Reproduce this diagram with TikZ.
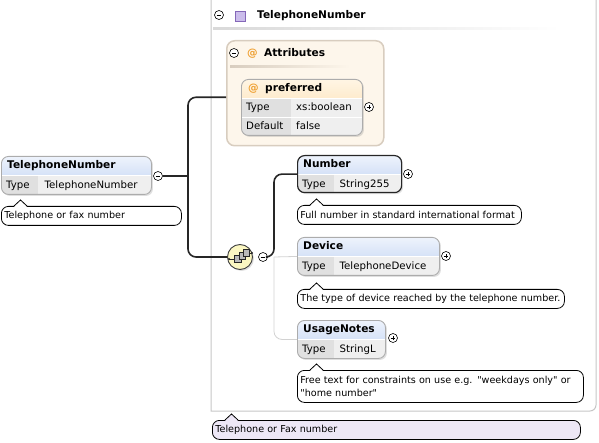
\documentclass[tikz,border=0pt]{standalone}
\usepackage{fontspec}
\setmainfont{DejaVu Sans}[Ligatures=TeXOff]
\usetikzlibrary{positioning, calc, shadows}

\definecolor{hdrtop}{HTML}{EEF3FC}
\definecolor{hdrbot}{HTML}{BCD0F2}
\definecolor{attop}{HTML}{FFF5E4}
\definecolor{atbot}{HTML}{FBD8A0}
\definecolor{cellkey}{HTML}{E0E0E0}
\definecolor{cellval}{HTML}{EFEFEF}
\definecolor{cream}{HTML}{FDF6EB}
\definecolor{creamline}{HTML}{D8CDBF}
\definecolor{seqfill}{HTML}{FBF7C2}
\definecolor{lavender}{HTML}{EDE7F6}
\definecolor{atorange}{HTML}{EFA031}
\definecolor{sqfill}{HTML}{CBBDEB}
\definecolor{sqline}{HTML}{8467B8}

\begin{document}
\begin{tikzpicture}[x=1pt, y=-1pt, font=\fontsize{10.2}{12.5}\selectfont,
        elem/.style={draw=gray!65, line width=0.9pt, rounded corners=7pt, fill=cellval, inner sep=0pt, anchor=north west,
            drop shadow={shadow xshift=1.5pt, shadow yshift=-1.5pt, opacity=0.25},
            path picture={
                \shade[sharp corners, top color=hdrtop, bottom color=hdrbot] (path picture bounding box.north west) rectangle ([yshift=-19pt]path picture bounding box.north east);
                \fill[sharp corners, cellkey] ([yshift=-19pt]path picture bounding box.north west) rectangle ([xshift=#1]path picture bounding box.south west);
                \draw[sharp corners, white, line width=0.8pt] ([yshift=-19pt]path picture bounding box.north west) -- ([yshift=-19pt]path picture bounding box.north east);
            }},
        elem/.default=36.5pt,
        attr/.style={draw=gray!65, line width=0.9pt, rounded corners=7pt, fill=cellval, inner sep=0pt, anchor=north west,
            drop shadow={shadow xshift=1.5pt, shadow yshift=-1.5pt, opacity=0.25},
            path picture={
                \shade[sharp corners, top color=attop, bottom color=atbot] (path picture bounding box.north west) rectangle ([yshift=-19pt]path picture bounding box.north east);
                \fill[sharp corners, cellkey] ([yshift=-19pt]path picture bounding box.north west) rectangle ([xshift=50pt]path picture bounding box.south west);
                \draw[sharp corners, white, line width=0.8pt] ([yshift=-19pt]path picture bounding box.north west) -- ([yshift=-19pt]path picture bounding box.north east);
                \draw[sharp corners, white, line width=0.8pt] ([yshift=-38pt]path picture bounding box.north west) -- ([yshift=-38pt]path picture bounding box.north east);
            }},
        hdr/.style={font=\fontsize{10.6}{12.5}\selectfont\bfseries, anchor=west, inner sep=0pt, text height=7.5pt, text depth=1pt},
        cell/.style={anchor=west, inner sep=0pt, text height=7.5pt, text depth=1pt},
        atsign/.style={hdr, text=atorange},
        minus/.style={circle, draw, line width=0.6pt, fill=white, minimum size=9pt, inner sep=0pt,
            path picture={\draw[line width=0.7pt] ([xshift=-2.3pt]path picture bounding box.center) -- ([xshift=2.3pt]path picture bounding box.center);}},
        plus/.style={circle, draw, line width=0.6pt, fill=white, minimum size=9pt, inner sep=0pt,
            path picture={\draw[line width=0.7pt] ([xshift=-2.3pt]path picture bounding box.center) -- ([xshift=2.3pt]path picture bounding box.center)
                ([yshift=-2.3pt]path picture bounding box.center) -- ([yshift=2.3pt]path picture bounding box.center);}},
        ann/.style={draw=black, line width=0.8pt, rounded corners=7pt, fill=white, anchor=north west, minimum height=19pt,
            inner xsep=3pt, inner ysep=0pt, align=left, font=\fontsize{9.6}{12.5}\selectfont},
        conn/.style={draw=gray!30!black, line width=1.6pt, rounded corners=8pt},
        thinconn/.style={draw=gray!35, line width=0.8pt, rounded corners=8pt}
    ]
    \useasboundingbox (0,0) rectangle (599,443);

    % complex type frame
    \draw[gray!45, line width=1pt] (211,0) -- (211,411) [rounded corners=6pt] -- (596,411) -- (596,0);
    \node[minus] (typemin) at (219,15) {};
    \node[draw=sqline, fill=sqfill, minimum size=10pt, inner sep=0pt] (typeicon) at (240,16) {};
    \node[hdr] (typename) at (257,15) {TelephoneNumber};
    \shade[left color=gray!30, right color=white] (213,28) rectangle (560,30);

    % attributes group
    \node[draw=creamline, line width=1.5pt, fill=cream, rounded corners=8pt, anchor=north west,
        minimum width=157pt, minimum height=105pt, inner sep=0pt] (attrs) at (226,40) {};
    \node[minus] (attrsmin) at (234,53) {};
    \node[atsign] (attrsat) at (247,53) {@};
    \node[hdr] (attrsname) at (264,53) {Attributes};
    \shade[left color=creamline, right color=cream] (230,66) rectangle (350,68);

    \node[attr, minimum width=121pt, minimum height=56pt] (pref) at (241,79) {};
    \node[atsign] (prefat) at ([xshift=7pt, yshift=-9.5pt]pref.north west) {@};
    \node[hdr] (prefname) at ([xshift=24pt, yshift=-9.5pt]pref.north west) {preferred};
    \node[cell] (prefkey1) at ([xshift=5pt, yshift=-28pt]pref.north west) {Type};
    \node[cell] (prefval1) at ([xshift=55pt, yshift=-28pt]pref.north west) {xs:boolean};
    \node[cell] (prefkey2) at ([xshift=5pt, yshift=-47pt]pref.north west) {Default};
    \node[cell] (prefval2) at ([xshift=55pt, yshift=-47pt]pref.north west) {false};
    \node[plus] (prefplus) at (369,107) {};

    % root element
    \node[elem, minimum width=150pt, minimum height=38pt] (root) at (1,156) {};
    \node[hdr] (rootname) at ([xshift=6pt, yshift=-9.5pt]root.north west) {TelephoneNumber};
    \node[cell] (rootkey) at ([xshift=5pt, yshift=9.5pt]root.south west) {Type};
    \node[cell] (rootval) at ([xshift=43.5pt, yshift=9.5pt]root.south west) {TelephoneNumber};
    \node[minus] (rootmin) at (158,176) {};
    \node[ann, text width=174pt] (rootnote) at (1,206) {Telephone or fax number};

    % sequence compositor
    \node[circle, draw=gray!50!black, line width=0.9pt, fill=seqfill, minimum size=25pt, inner sep=0pt,
        drop shadow={shadow xshift=1.5pt, shadow yshift=-1.5pt, opacity=0.25}] (seq) at (240,257) {};
    \begin{scope}[shift={(seq.center)}, line width=0.6pt]
        \draw[gray!30!black] (-11,2) -- (-6,2) (9,-4) -- (12,-4);
        \fill[gray!30!black] (-11,2) circle (1.2pt) (12,-4) circle (1.2pt);
        \filldraw[fill=gray!55, draw=gray!30!black] (-6,-2) rectangle (1,5);
        \filldraw[fill=gray!55, draw=gray!30!black] (-1,-5) rectangle (5,2);
        \filldraw[fill=gray!55, draw=gray!30!black] (3,-8) rectangle (9,-1);
    \end{scope}
    \node[minus] (seqmin) at (263,257) {};

    % child elements
    \node[elem, draw=black!85, line width=1.2pt, minimum width=104pt, minimum height=37pt] (num) at (297,155) {};
    \node[hdr] (numname) at ([xshift=6pt, yshift=-9.5pt]num.north west) {Number};
    \node[cell] (numkey) at ([xshift=5pt, yshift=9pt]num.south west) {Type};
    \node[cell] (numval) at ([xshift=42.5pt, yshift=9pt]num.south west) {String255};
    \node[plus] (numplus) at (408,174) {};
    \node[ann, text width=218pt] (numnote) at (297,205) {Full number in standard international format};

    \node[elem, minimum width=142pt, minimum height=38pt] (dev) at (297,237) {};
    \node[hdr] (devname) at ([xshift=6pt, yshift=-9.5pt]dev.north west) {Device};
    \node[cell] (devkey) at ([xshift=5pt, yshift=9.5pt]dev.south west) {Type};
    \node[cell] (devval) at ([xshift=42.5pt, yshift=9.5pt]dev.south west) {TelephoneDevice};
    \node[plus] (devplus) at (446,256) {};
    \node[ann, text width=261pt] (devnote) at (297,289) {The type of device reached by the telephone number.};

    \node[elem, minimum width=88pt, minimum height=38pt] (notes) at (297,320) {};
    \node[hdr] (notesname) at ([xshift=6pt, yshift=-9.5pt]notes.north west) {UsageNotes};
    \node[cell] (noteskey) at ([xshift=5pt, yshift=9.5pt]notes.south west) {Type};
    \node[cell] (notesval) at ([xshift=42.5pt, yshift=9.5pt]notes.south west) {StringL};
    \node[plus] (notesplus) at (393,338) {};
    \node[ann, text width=280pt, minimum height=32pt] (notesnote) at (297,370) {Free text for constraints on use e.g. "weekdays only" or\\"home number"};

    \node[ann, fill=lavender, text width=362pt] (typenote) at (212,420) {Telephone or Fax number};

    % note pointers
    \foreach \n/\c in {rootnote/white, numnote/white, devnote/white, notesnote/white, typenote/lavender} {
        \fill[\c] ([xshift=13pt, yshift=-1pt]\n.north west) -- ([xshift=19.5pt, yshift=6pt]\n.north west) -- ([xshift=26pt, yshift=-1pt]\n.north west) -- cycle;
        \draw[line width=0.8pt] ([xshift=13pt]\n.north west) -- ([xshift=19.5pt, yshift=6pt]\n.north west) -- ([xshift=26pt]\n.north west);
    }

    % connectors
    \coordinate (fork) at (188,176);
    \coordinate (fork2) at (274,257);
    \draw[conn] (rootmin) -- (fork);
    \draw[conn] (fork) |- ([yshift=-4pt]attrs.west);
    \draw[conn] (fork) |- (seq.west);
    \draw[thinconn] (fork2) -- (dev.west);
    \draw[thinconn] (fork2) |- (notes.west);
    \draw[conn] (seqmin) -- (fork2) |- (num.west);
\end{tikzpicture}
\end{document}
